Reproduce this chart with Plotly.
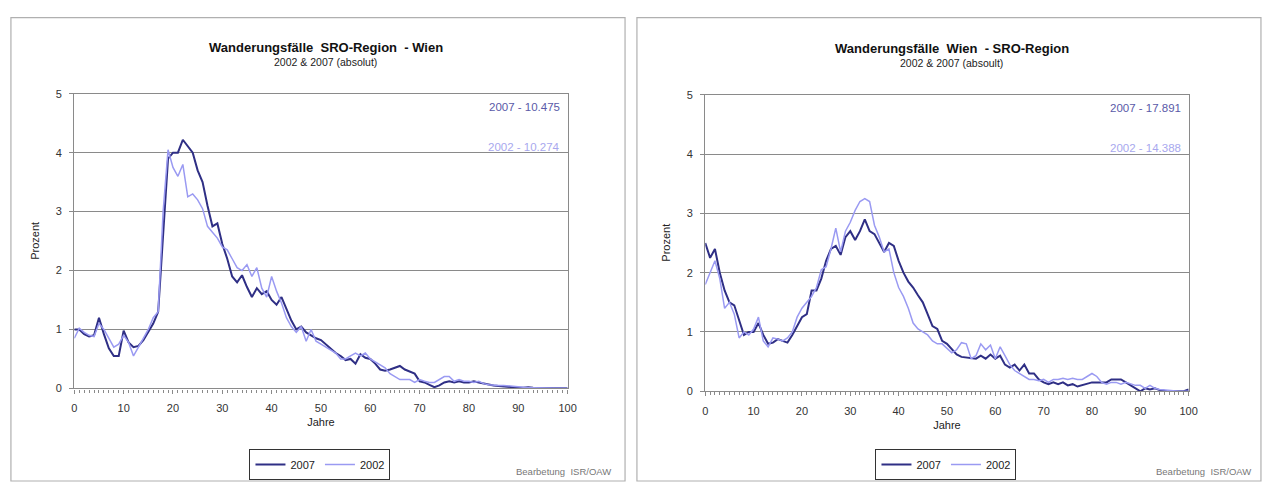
import plotly.graph_objects as go

ages = list(range(0, 101))

# Left panel: SRO-Region -> Wien
left_2007 = [1.0, 1.0, 0.92, 0.88, 0.9, 1.2, 0.92, 0.68, 0.55, 0.55,
             0.98, 0.78, 0.7, 0.72, 0.82, 0.95, 1.1, 1.3, 2.7, 3.9,
             4.0, 4.0, 4.22, 4.1, 4.0, 3.7, 3.5, 3.1, 2.75, 2.8,
             2.45, 2.2, 1.9, 1.8, 1.92, 1.72, 1.55, 1.7, 1.6, 1.65,
             1.5, 1.42, 1.55, 1.35, 1.15, 1.0, 1.05, 0.95, 0.9, 0.85,
             0.82, 0.75, 0.68, 0.6, 0.55, 0.48, 0.5, 0.42, 0.58, 0.52,
             0.5, 0.42, 0.32, 0.3, 0.32, 0.35, 0.38, 0.32, 0.28, 0.25,
             0.12, 0.1, 0.06, 0.02, 0.05, 0.1, 0.12, 0.1, 0.12, 0.1,
             0.1, 0.12, 0.1, 0.08, 0.06, 0.05, 0.04, 0.03, 0.02, 0.02,
             0.01, 0.01, 0.02, 0.01, 0.01, 0.01, 0.0, 0.0, 0.0, 0.0, 0.0]
left_2002 = [0.85, 1.02, 0.95, 0.9, 0.88, 1.1, 1.0, 0.85, 0.7, 0.75,
             0.9, 0.78, 0.55, 0.7, 0.85, 1.0, 1.2, 1.3, 3.0, 4.05,
             3.75, 3.6, 3.8, 3.25, 3.3, 3.2, 3.05, 2.75, 2.65, 2.55,
             2.4, 2.35, 2.2, 2.05, 2.0, 2.1, 1.9, 2.05, 1.7, 1.55,
             1.9, 1.65, 1.45, 1.2, 1.05, 0.95, 1.05, 0.8, 1.0, 0.8,
             0.75, 0.7, 0.65, 0.6, 0.5, 0.5, 0.55, 0.6, 0.55, 0.6,
             0.5, 0.45, 0.4, 0.35, 0.25, 0.2, 0.15, 0.15, 0.15, 0.1,
             0.15, 0.12, 0.1, 0.1, 0.15, 0.2, 0.2, 0.12, 0.15, 0.12,
             0.12, 0.1, 0.12, 0.08, 0.06, 0.05, 0.05, 0.05, 0.04, 0.03,
             0.02, 0.02, 0.01, 0.01, 0.01, 0.0, 0.0, 0.0, 0.0, 0.0, 0.0]

# Right panel: Wien -> SRO-Region
right_2007 = [2.5, 2.25, 2.4, 2.0, 1.7, 1.5, 1.45, 1.2, 0.95, 1.0,
              1.0, 1.15, 0.95, 0.8, 0.82, 0.88, 0.85, 0.82, 0.95, 1.1,
              1.25, 1.3, 1.7, 1.7, 1.9, 2.2, 2.4, 2.45, 2.3, 2.6,
              2.7, 2.55, 2.7, 2.9, 2.7, 2.65, 2.5, 2.35, 2.5, 2.45,
              2.2, 2.0, 1.85, 1.75, 1.62, 1.5, 1.3, 1.1, 1.05, 0.85,
              0.8, 0.7, 0.62, 0.58, 0.57, 0.56, 0.55, 0.6, 0.55, 0.62,
              0.55, 0.6, 0.45, 0.4, 0.45, 0.35, 0.45, 0.3, 0.3, 0.2,
              0.15, 0.12, 0.15, 0.12, 0.15, 0.1, 0.12, 0.08, 0.1, 0.12,
              0.15, 0.15, 0.15, 0.15, 0.2, 0.2, 0.2, 0.15, 0.1, 0.05,
              0.0, 0.05, 0.03, 0.05, 0.02, 0.01, 0.0, 0.0, 0.0, 0.0, 0.03]
right_2002 = [1.8, 2.0, 2.2, 1.9, 1.4, 1.5, 1.3, 0.9, 1.0, 0.95,
              1.05, 1.25, 0.85, 0.75, 0.9, 0.88, 0.85, 0.9, 1.0, 1.25,
              1.4, 1.5, 1.6, 1.75, 2.05, 2.1, 2.4, 2.75, 2.35, 2.7,
              2.85, 3.05, 3.2, 3.25, 3.2, 2.8, 2.6, 2.35, 2.4, 2.0,
              1.75, 1.6, 1.4, 1.15, 1.05, 1.0, 0.95, 0.85, 0.8, 0.8,
              0.72, 0.65, 0.7, 0.82, 0.8, 0.55, 0.6, 0.8, 0.7, 0.78,
              0.55, 0.75, 0.6, 0.45, 0.35, 0.3, 0.25, 0.2, 0.2, 0.18,
              0.2, 0.15, 0.2, 0.2, 0.22, 0.2, 0.22, 0.2, 0.2, 0.25,
              0.3, 0.25, 0.15, 0.12, 0.15, 0.15, 0.12, 0.15, 0.12, 0.1,
              0.1, 0.05, 0.1, 0.05, 0.03, 0.02, 0.01, 0.0, 0.0, 0.0, 0.0]

titles = ["Wanderungsfälle  SRO-Region  - Wien", "Wanderungsfälle  Wien  - SRO-Region"]
subtitles = ["2002 &amp; 2007 (absolut)", "2002 &amp; 2007 (absoult)"]
totals_2007 = ["2007 - 10.475", "2007 - 17.891"]
totals_2002 = ["2002 - 10.274", "2002 - 14.388"]
series_names = ["2007", "2002"]
xticks = [0, 10, 20, 30, 40, 50, 60, 70, 80, 90, 100]
yticks = [0, 1, 2, 3, 4, 5]

W, H = 1266, 488
C2007 = "#2f2f85"
C2002 = "#9a9af2"
GRID = "#8a8a8a"
FONT = "Liberation Sans, Arial, sans-serif"


def px(x):
    return x / W


def py(y):
    return 1 - y / H


fig = go.Figure()

panels = [
    dict(x0=72, x1=570, y0=90, y1=392, xa="x", ya="y", leg="legend",
         data=(left_2007, left_2002), box=(8, 12, 628, 487)),
    dict(x0=709, x1=1197, y0=91, y1=395, xa="x2", ya="y2", leg="legend2",
         data=(right_2007, right_2002), box=(640, 12, 1270, 487)),
]

for i, p in enumerate(panels):
    d07, d02 = p["data"]
    fig.add_trace(go.Scatter(x=ages, y=d07, mode="lines", name=series_names[0],
                             line=dict(color=C2007, width=2), xaxis=p["xa"], yaxis=p["ya"],
                             legend=p["leg"]))
    fig.add_trace(go.Scatter(x=ages, y=d02, mode="lines", name=series_names[1],
                             line=dict(color=C2002, width=1.5), xaxis=p["xa"], yaxis=p["ya"],
                             legend=p["leg"]))

axis_common = dict(showline=True, linecolor=GRID, linewidth=1.3, mirror=True,
                   tickfont=dict(family=FONT, size=11, color="#333"), zeroline=False)

layout = dict(
    width=W, height=H, margin=dict(l=0, r=0, t=0, b=0),
    paper_bgcolor="white", plot_bgcolor="white",
    font=dict(family=FONT, color="#222"),
    shapes=[], annotations=[],
)

for i, p in enumerate(panels):
    sfx = "" if i == 0 else "2"
    layout["xaxis" + sfx] = dict(
        domain=[px(p["x0"]), px(p["x1"])], range=[0, 100], anchor="y" + sfx,
        tickvals=xticks, ticks="outside", ticklen=4, tickcolor=GRID, showgrid=False,
        ticklabelstandoff=5,
        minor=dict(dtick=1, ticks="outside", ticklen=3, tickcolor=GRID),
        title=dict(text="Jahre", font=dict(family=FONT, size=11, color="#222"), standoff=5),
        **axis_common)
    layout["yaxis" + sfx] = dict(
        domain=[py(p["y1"]), py(p["y0"])], range=[0, 5], anchor="x" + sfx,
        tickvals=yticks, ticks="outside", ticklen=4, tickcolor=GRID,
        ticklabelstandoff=5,
        showgrid=True, gridcolor=GRID, gridwidth=1.3,
        **axis_common)
    bx0, by0, bx1, by1 = p["box"]
    layout["shapes"].append(dict(type="rect", xref="paper", yref="paper",
                                 x0=px(bx0), x1=px(bx1), y0=py(by1), y1=py(by0),
                                 line=dict(color="#b0b0b0", width=1.2), fillcolor="rgba(0,0,0,0)"))
    # white box behind totals
    layout["shapes"].append(dict(type="rect", xref="paper", yref="paper", layer="between",
                                 x0=px(p["x1"] - 105), x1=px(p["x1"] - 3),
                                 y0=py(p["y0"] + 63), y1=py(p["y0"] + 4),
                                 line=dict(width=0), fillcolor="white"))
    cx = (p["x0"] + p["x1"]) / 2 + 5
    layout["annotations"] += [
        dict(text="<b>" + titles[i] + "</b>", x=px(cx), y=py(p["y0"] - 47), xref="paper", yref="paper",
             showarrow=False, font=dict(family=FONT, size=13, color="#111"), xanchor="center", yanchor="middle"),
        dict(text=subtitles[i], x=px(cx), y=py(p["y0"] - 33), xref="paper", yref="paper",
             showarrow=False, font=dict(family=FONT, size=10.5, color="#222"), xanchor="center", yanchor="middle"),
        dict(text=totals_2007[i], x=px(p["x1"] - 6), y=py(p["y0"] + 14), xref="paper", yref="paper",
             showarrow=False, font=dict(family=FONT, size=11.5, color="#5a5aa8"), xanchor="right", yanchor="middle"),
        dict(text=totals_2002[i], x=px(p["x1"] - 6), y=py(p["y0"] + 55), xref="paper", yref="paper",
             showarrow=False, font=dict(family=FONT, size=11.5, color="#a8a8ee"), xanchor="right", yanchor="middle"),
        dict(text="Prozent", x=px(p["x0"] - 40), y=py((p["y0"] + p["y1"]) / 2), xref="paper", yref="paper",
             showarrow=False, textangle=-90, font=dict(family=FONT, size=11, color="#222"),
             xanchor="center", yanchor="middle"),
        dict(text="Bearbetung  ISR/OAW", x=px(616) if i == 0 else px(1262), y=py(477), xref="paper", yref="paper",
             showarrow=False, font=dict(family=FONT, size=9.5, color="#777"), xanchor="right", yanchor="middle"),
    ]
    leg = dict(orientation="h", x=px(cx - 6), y=py(470), xanchor="center", yanchor="middle",
               bordercolor="#333", borderwidth=1, bgcolor="white",
               font=dict(family=FONT, size=11, color="#222"), itemwidth=30,
               tracegroupgap=0)
    layout["legend" if i == 0 else "legend2"] = leg

fig.update_layout(**layout)
fig.write_html("out.html", config={"displayModeBar": False},
               post_script="document.body.style.margin='0';document.body.style.overflow='hidden';")
